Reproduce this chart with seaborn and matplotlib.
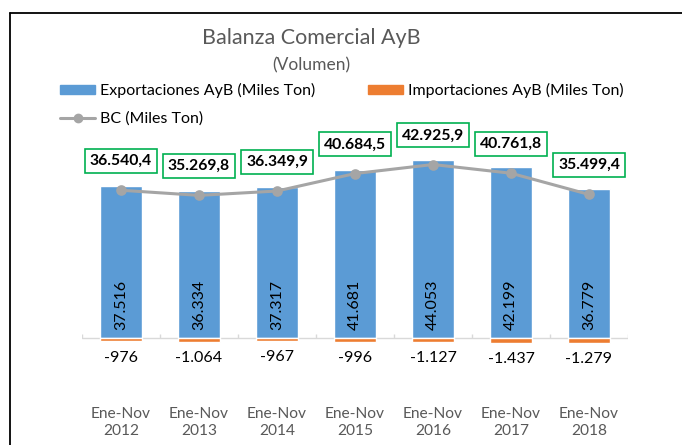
import numpy as np
import pandas as pd
import matplotlib
matplotlib.use("Agg")
import matplotlib.pyplot as plt
import seaborn as sns
from matplotlib.lines import Line2D
from matplotlib.patches import Patch

# Datos (Miles de toneladas)
periodos = ["Ene-Nov\n2012", "Ene-Nov\n2013", "Ene-Nov\n2014", "Ene-Nov\n2015",
            "Ene-Nov\n2016", "Ene-Nov\n2017", "Ene-Nov\n2018"]
exportaciones = [37516, 36334, 37317, 41681, 44053, 42199, 36779]
importaciones = [-976, -1064, -967, -996, -1127, -1437, -1279]
balanza = [36540.4, 35269.8, 36349.9, 40684.5, 42925.9, 40761.8, 35499.4]

df = pd.DataFrame({"periodo": periodos, "exp": exportaciones,
                   "imp": importaciones, "bc": balanza})

AZUL = "#5B9BD5"
NARANJA = "#ED7D31"
GRIS = "#A5A5A5"
VERDE = "#00B050"
TEXTO = "#595959"


def miles(v, dec=0):
    s = f"{v:,.{dec}f}"
    return s.replace(",", "X").replace(".", ",").replace("X", ".")


sns.set_theme(style="white")
plt.rcParams["font.family"] = ["Lato", "DejaVu Sans"]

fig = plt.figure(figsize=(6.82, 4.45), dpi=100)
ax = fig.add_axes([82 / 682, 1 - 398 / 445, 546 / 682, 262 / 445])

sns.barplot(data=df, x="periodo", y="exp", color=AZUL, saturation=1,
            width=0.55, ax=ax)
sns.barplot(data=df, x="periodo", y="imp", color=NARANJA, saturation=1,
            width=0.55, ax=ax)
sns.pointplot(data=df, x="periodo", y="bc", color=GRIS, markers="o",
              linewidth=2.2, markersize=6, errorbar=None, ax=ax)

ax.set_ylim(-15000, 50000)
ax.set_xlim(-0.5, len(periodos) - 0.5)
ax.set_xlabel("")
ax.set_ylabel("")
ax.set_yticks([])
for s in ax.spines.values():
    s.set_visible(False)
ax.axhline(0, color="#D9D9D9", lw=1, zorder=0)
ax.vlines(np.arange(-0.5, len(periodos)), 0, 1000, color="#D9D9D9", lw=1, zorder=0)
ax.tick_params(axis="x", length=0, pad=6.5, labelsize=11.2, labelcolor=TEXTO)
for lbl in ax.get_xticklabels():
    lbl.set_linespacing(1.3)

# Etiquetas de datos
for i, row in df.iterrows():
    ax.annotate(miles(row["exp"]), (i, 0), xytext=(0, 5.5), textcoords="offset points",
                rotation=90, ha="center", va="bottom", fontsize=11.5, color="black")
    ax.annotate(miles(row["imp"]), (i, row["imp"]), xytext=(0, -6.5),
                textcoords="offset points", ha="center", va="top",
                fontsize=11.5, color="black")
    ax.annotate(miles(row["bc"], 1), (i, row["bc"]), xytext=(0, 21),
                textcoords="offset points", ha="center", va="center",
                fontsize=11.3, fontweight="bold", color="black",
                bbox=dict(boxstyle="square,pad=0.32", fc="white", ec=VERDE, lw=1.2),
                zorder=5)

# Titulo
fig.text(311 / 682, 1 - 38 / 445, "Balanza Comercial AyB", ha="center", va="center",
         fontsize=15.5, color=TEXTO)
fig.text(311 / 682, 1 - 65 / 445, "(Volumen)", ha="center", va="center",
         fontsize=12.5, color=TEXTO)

# Leyenda
handles = [Patch(color=AZUL, label="Exportaciones AyB (Miles Ton)"),
           Line2D([], [], color=GRIS, lw=2.2, marker="o", markersize=6,
                  label="BC (Miles Ton)"),
           Patch(color=NARANJA, label="Importaciones AyB (Miles Ton)")]
fig.legend(handles=handles, ncol=2, loc="upper left",
           bbox_to_anchor=(60 / 682, 1 - 83 / 445), frameon=False,
           fontsize=11.5, handlelength=2.2, handleheight=0.55, handletextpad=0.3,
           columnspacing=3.3, labelspacing=0.85, borderpad=0, borderaxespad=0,
           labelcolor="black")

# Marco del grafico
fig.add_artist(Line2D([10 / 682, 10 / 682], [0, 1 - 13 / 445], color="black", lw=1.3))
fig.add_artist(Line2D([10 / 682, 1], [1 - 13 / 445, 1 - 13 / 445], color="black", lw=1.3))

fig.savefig("out.png", dpi=100)
